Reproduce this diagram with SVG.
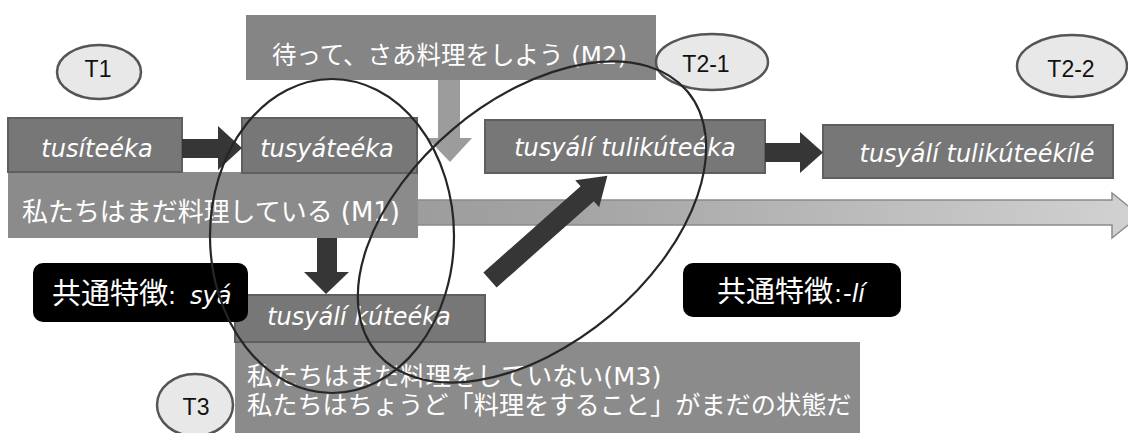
<svg xmlns="http://www.w3.org/2000/svg" width="1128" height="433" viewBox="0 0 1128 433">
<defs>
<linearGradient id="gLong" x1="0" y1="0" x2="1" y2="0">
<stop offset="0" stop-color="#8a8a8a"/>
<stop offset="0.5" stop-color="#a4a4a4"/>
<stop offset="1" stop-color="#d2d2d2"/>
</linearGradient>
</defs>
<style>
.node{fill:#777777;stroke:#5f5f5f;stroke-width:2}
.msg{fill:#8b8b8b}
.lab{fill:#000000}
.nt{font-family:"DejaVu Sans",sans-serif;font-style:italic;font-size:24px;fill:#ffffff;text-anchor:middle}
.jt{font-family:"DejaVu Sans","Noto Sans CJK JP",sans-serif;fill:#ffffff}
.tag{fill:#e8e8e8;stroke:#555555;stroke-width:2.5}
.tt{font-family:"Liberation Sans",Arial,sans-serif;font-size:23px;fill:#111111;text-anchor:middle}
.dark{fill:#363636}
.ring{fill:none;stroke:#262626;stroke-width:2.2}
</style>

<g id="timeline">
<path d="M10,200 H1112 V193 L1140,215.5 L1112,238 V225 H10 Z" fill="url(#gLong)" stroke="#8a8a8a" stroke-width="1.5"/>
</g>

<g id="M2">
<rect x="246" y="15" width="410" height="65" fill="#858585"/>
<text class="jt" x="272" y="64" font-size="24.5" textLength="355" lengthAdjust="spacingAndGlyphs">待って、さあ料理をしよう (M2)</text>
</g>

<g id="M1">
<rect class="msg" x="8" y="172" width="410" height="66"/>
<text class="jt" x="22" y="221" font-size="26" textLength="378" lengthAdjust="spacingAndGlyphs">私たちはまだ料理している (M1)</text>
</g>

<g id="n-tusiteeka">
<rect class="node" x="8" y="118" width="174" height="54"/>
<text class="nt" x="97" y="157">tusíteéka</text>
</g>

<g id="n-tusyateeka">
<rect class="node" x="242" y="118" width="175" height="55"/>
<text class="nt" x="327" y="157">tusyáteéka</text>
</g>

<g id="n-tusyali-tulikuteeka">
<rect class="node" x="485" y="120" width="280" height="53"/>
<text class="nt" x="625" y="156">tusyálí tulikúteéka</text>
</g>

<g id="n-tusyali-tulikuteekile">
<rect class="node" x="823" y="125" width="290" height="53"/>
<text class="nt" x="977" y="162">tusyálí tulikúteékílé</text>
</g>

<g id="M3">
<rect class="msg" x="235" y="342" width="625" height="95"/>
<text class="jt" x="247" y="385" font-size="25.5">私たちはまだ料理をしていない(M3)</text>
<text class="jt" x="247" y="414" font-size="25.2">私たちはちょうど「料理をすること」がまだの状態だ</text>
</g>

<g id="n-tusyali-kuteeka">
<rect class="node" x="235" y="295" width="250" height="47"/>
<text class="nt" x="359" y="325">tusyálí kúteéka</text>
</g>

<g id="label-sya">
<rect class="lab" x="33" y="263" width="215" height="59" rx="10"/>
<text class="jt" x="52" y="304" font-size="29">共通特徴<tspan font-family="DejaVu Sans, sans-serif" font-size="24">:</tspan><tspan x="190" font-family="DejaVu Sans, sans-serif" font-style="italic" font-size="24">syá</tspan></text>
</g>

<g id="label-li">
<rect class="lab" x="683" y="263" width="218" height="54" rx="10"/>
<text class="jt" x="717" y="302" font-size="29">共通特徴<tspan x="834" font-family="DejaVu Sans, sans-serif" font-size="24">:</tspan><tspan x="843" font-family="DejaVu Sans, sans-serif" font-style="italic" font-size="24">-lí</tspan></text>
</g>

<g id="T1">
<ellipse class="tag" cx="99" cy="72" rx="42" ry="27"/>
<text class="tt" x="98" y="77">T1</text>
</g>
<g id="T2-1">
<ellipse class="tag" cx="712" cy="62" rx="56" ry="28"/>
<text class="tt" x="706" y="72">T2-1</text>
</g>
<g id="T2-2">
<ellipse class="tag" cx="1072" cy="66" rx="55" ry="31"/>
<text class="tt" x="1071" y="77">T2-2</text>
</g>
<g id="T3">
<ellipse class="tag" cx="195" cy="405" rx="38" ry="31"/>
<text class="tt" x="196" y="415">T3</text>
</g>

<g id="connectors">
<path class="dark" d="M182,139 H218 V126 L242,148 L218,170 V158 H182 Z"/>
<path class="dark" d="M765,143 H800 V132 L823,152.5 L800,173 V162 H765 Z"/>
<path class="dark" d="M317,238 H337 V272 H349 L326,294 L304,272 H317 Z"/>
<path d="M438,80 H460 V138 H472 L450,162 L427,138 H438 Z" fill="#9c9c9c"/>
<g transform="translate(490,280) rotate(-41.6)">
<path class="dark" d="M0,-10 H130 V-18 L157,0 L130,18 V10 H0 Z"/>
</g>
<ellipse class="ring" cx="332" cy="236" rx="122" ry="157"/>
<ellipse class="ring" cx="532" cy="222" rx="203" ry="122" transform="rotate(-40 532 222)"/>
</g>
</svg>
